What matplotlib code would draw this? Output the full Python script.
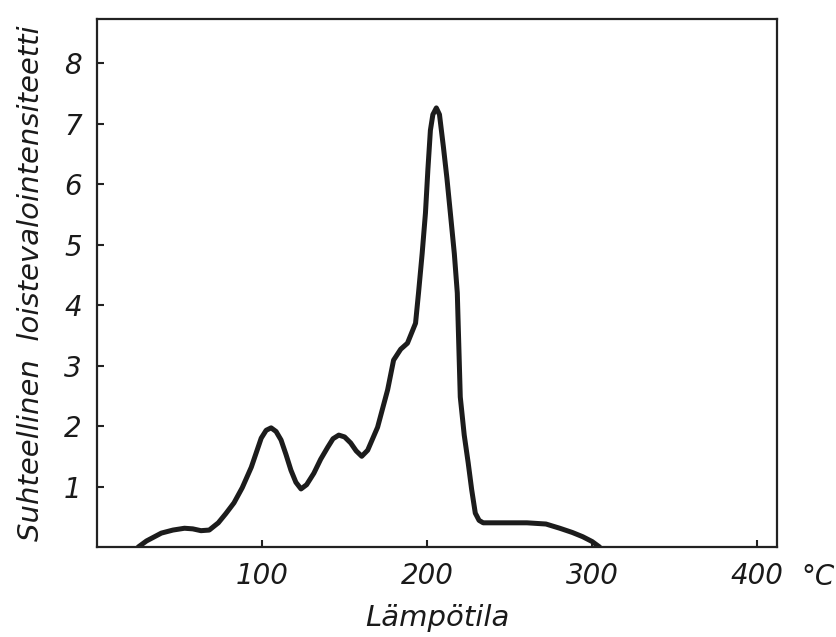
import matplotlib
matplotlib.use("Agg")
import matplotlib.pyplot as plt

# Data
temperature = [25, 30, 39, 46, 53, 58, 63, 68, 73.5, 78, 83, 88, 93.5, 99.5, 102.5, 105.5,
               108.5, 111.5, 114.5, 117.5, 120.5, 123.6, 127, 131.4, 135.5, 139.8, 143, 146.5,
               150, 153.7, 157, 160.4, 164, 170, 176.1, 179.7, 184, 188.1, 193, 194.8, 197,
               199, 200.5, 202, 203.5, 205.6, 207.5, 209.9, 212, 214.1, 216.5, 218.3, 220.1,
               222.5, 224.9, 227, 229.2, 231.5, 234, 245, 260.5, 272, 280.4, 288, 294.3,
               300, 304.5]
intensity = [0.0, 0.10, 0.23, 0.28, 0.31, 0.30, 0.27, 0.28, 0.40, 0.55, 0.73, 0.98, 1.32, 1.80,
             1.93, 1.97, 1.91, 1.77, 1.53, 1.27, 1.07, 0.96, 1.03, 1.22, 1.45, 1.65, 1.79, 1.85,
             1.82, 1.72, 1.59, 1.50, 1.60, 1.98, 2.60, 3.09, 3.27, 3.37, 3.70, 4.20, 4.85,
             5.52, 6.25, 6.89, 7.15, 7.26, 7.15, 6.61, 6.10, 5.52, 4.85, 4.20, 2.48,
             1.85, 1.39, 0.95, 0.56, 0.44, 0.40, 0.40, 0.40, 0.38, 0.31, 0.24, 0.17,
             0.09, 0.0]

xticks = [100, 200, 300, 400]
yticks = [1, 2, 3, 4, 5, 6, 7, 8]
xlabel = "Lämpötila"
ylabel = "Suhteellinen  loistevalointensiteetti"
unit = "°C"

plt.rcParams["font.family"] = ["DejaVu Sans"]
plt.rcParams["font.style"] = "italic"

ink = "#222222"
fig = plt.figure(figsize=(8.36, 6.37), dpi=100)
ax = fig.add_axes([97 / 836, 1 - 547 / 637, 680 / 836, 528 / 637])

ax.plot(temperature, intensity, color="#1c1c1c", lw=3.6, solid_joinstyle="round",
        solid_capstyle="round")

ax.set_xlim(0, 412)
ax.set_ylim(0, 8.73)
ax.set_xticks(xticks)
ax.set_yticks(yticks)
ax.set_xticklabels([str(v) for v in xticks])
ax.set_yticklabels([str(v) for v in yticks])

for s in ax.spines.values():
    s.set_linewidth(1.6)
    s.set_color(ink)

ax.tick_params(axis="both", direction="in", length=5, width=1.5, colors=ink,
               labelsize=20, labelcolor="#1a1a1a")
ax.tick_params(axis="x", pad=11)
ax.tick_params(axis="y", pad=11)

ax.set_xlabel(xlabel, fontsize=21, color="#1a1a1a", labelpad=10)
ax.set_ylabel(ylabel, fontsize=21, color="#1a1a1a", labelpad=14)
ax.text(1.036, -0.057, unit, transform=ax.transAxes, fontsize=20, color="#1a1a1a",
        ha="left", va="center")

fig.savefig("out.png", dpi=100, facecolor="white")
